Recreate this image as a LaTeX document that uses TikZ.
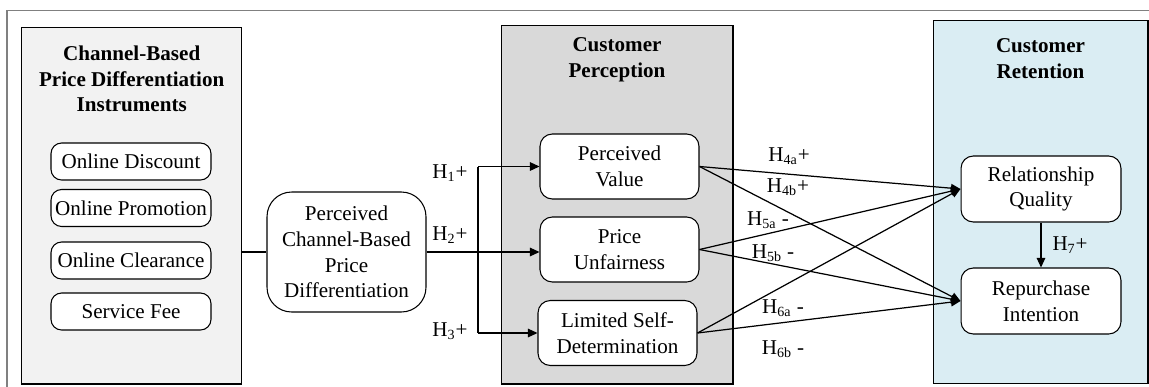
\documentclass[tikz,border=0pt]{standalone}
\usepackage{fontspec}
\setmainfont{Liberation Serif}
\usetikzlibrary{positioning, calc, arrows.meta}

\definecolor{instrfill}{HTML}{F2F2F2}
\definecolor{percfill}{HTML}{D9D9D9}
\definecolor{retfill}{HTML}{DAEDF3}

\begin{document}
\begin{tikzpicture}[
  x=0.02cm, y=-0.02cm,
  >=Triangle,
  panel/.style={rectangle, draw, line width=0.6pt},
  title/.style={align=center, font=\fontsize{12pt}{14.6pt}\selectfont\bfseries},
  item/.style={rectangle, draw, rounded corners=6pt, line width=0.6pt, fill=white, align=center, minimum width=3.2cm, minimum height=0.74cm, inner sep=1pt},
  construct/.style={rectangle, draw, rounded corners=7pt, line width=0.6pt, fill=white, align=center, minimum width=3.18cm, minimum height=1.3cm, inner sep=1pt},
  hyp/.style={inner sep=1pt},
  line/.style={line width=0.7pt},
  arrow/.style={-{Triangle[length=1.9mm, width=1.7mm]}, line width=0.7pt},
  every node/.style={font=\fontsize{12pt}{14.6pt}\selectfont}
]
\useasboundingbox (0,0) rectangle (1149,386);

% outer frame
\draw[black!50, line width=1pt] (7,390) -- (7,10.5) -- (1152,10.5);

%------------------------------------------------
% Panels
%------------------------------------------------
\node[panel, fill=instrfill, minimum width=4.4cm, minimum height=7.14cm] (panel_instr) at (131.7,205.5) {};
\node[panel, fill=percfill, minimum width=4.64cm, minimum height=7.18cm] (panel_perc) at (617,204.5) {};
\node[panel, fill=retfill, minimum width=4.3cm, minimum height=7.28cm] (panel_ret) at (1040.5,202) {};

\node[title] (title_instr) at (131.7,79) {Channel-Based\\Price Differentiation\\Instruments};
\node[title] (title_perc) at (617,59.5) {Customer\\Perception};
\node[title] (title_ret) at (1040.5,58.5) {Customer\\Retention};

%------------------------------------------------
% Instruments
%------------------------------------------------
\node[item] (item_discount) at (131,161.5) {Online Discount};
\node[item] (item_promotion) at (131,208) {Online Promotion};
\node[item] (item_clearance) at (131,260.5) {Online Clearance};
\node[item] (item_fee) at (131,311.5) {Service Fee};

\node[construct, rounded corners=14pt, minimum height=2.4cm] (pcbpd) at (346.5,252) {Perceived\\Channel-Based\\Price\\Differentiation};

\draw[line] (panel_instr.east |- pcbpd.west) -- (pcbpd.west);

%------------------------------------------------
% Customer perception
%------------------------------------------------
\node[construct] (perc_value) at (619.5,166.5) {Perceived\\Value};
\node[construct] (perc_unfair) at (619.5,249.5) {Price\\Unfairness};
\node[construct] (perc_selfdet) at (617.5,333) {Limited Self-\\Determination};

\coordinate (split) at (478,252);
\draw[line] (pcbpd.east) -- (split);
\draw[line] (split |- perc_value.west) -- (split |- perc_selfdet.west);
\draw[arrow] (split |- perc_value.west) -- (perc_value.west);
\draw[arrow] (split) -- (split -| perc_unfair.west);
\draw[arrow] (split |- perc_selfdet.west) -- (perc_selfdet.west);

\node[hyp] (h1) at (450,173) {H\textsubscript{1}+};
\node[hyp] (h2) at (450,235) {H\textsubscript{2}+};
\node[hyp] (h3) at (450,331) {H\textsubscript{3}+};

%------------------------------------------------
% Customer retention
%------------------------------------------------
\node[construct, minimum width=3.2cm, minimum height=1.32cm] (ret_quality) at (1041,189) {Relationship\\Quality};
\node[construct, minimum width=3.2cm, minimum height=1.32cm] (ret_intent) at (1041,301) {Repurchase\\Intention};

\draw[arrow] (ret_quality.south) -- (ret_intent.north);
\node[hyp] (h7) at (1070,245) {H\textsubscript{7}+};

% perception -> retention
\draw[arrow] (perc_value.east) -- (ret_quality.west);
\draw[arrow] (perc_value.east) -- (ret_intent.west);
\draw[arrow] (perc_unfair.east) -- (ret_quality.west);
\draw[arrow] (perc_unfair.east) -- (ret_intent.west);
\draw[arrow] (perc_selfdet.east) -- (ret_quality.west);
\draw[arrow] (perc_selfdet.east) -- (ret_intent.west);

\node[hyp] (h4a) at (789,156) {H\textsubscript{4a}+};
\node[hyp] (h4b) at (788,187) {H\textsubscript{4b}+};
\node[hyp] (h5a) at (768,220) {H\textsubscript{5a} -};
\node[hyp] (h5b) at (773,253) {H\textsubscript{5b} -};
\node[hyp] (h6a) at (783,308) {H\textsubscript{6a} -};
\node[hyp] (h6b) at (783,349) {H\textsubscript{6b} -};

\end{tikzpicture}
\end{document}
